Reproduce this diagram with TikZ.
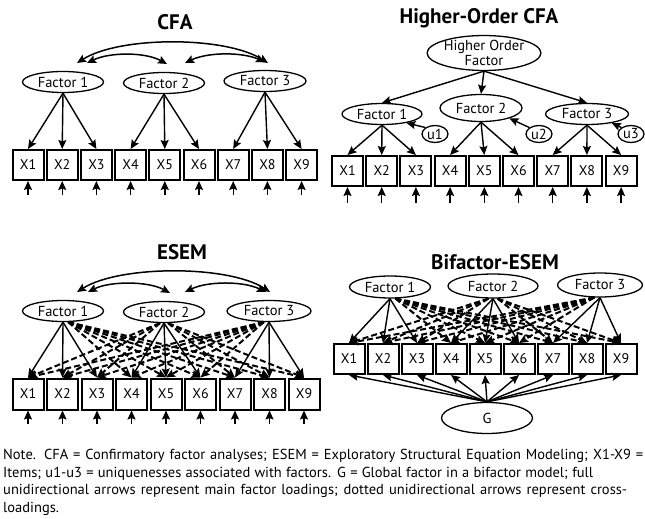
\documentclass[tikz,border=0pt]{standalone}
\usepackage{fontspec}
\setmainfont{PT Sans}
\usetikzlibrary{shapes.geometric,arrows.meta}
\begin{document}
\begin{tikzpicture}[x=1pt,y=-1pt,
  lab/.style={font=\fontsize{14.5}{15}\selectfont},
  fac/.style={ellipse,draw,line width=1.3pt,inner sep=0pt,lab},
  box/.style={draw,line width=2pt,minimum width=31pt,minimum height=30pt,inner sep=0pt,font=\fontsize{14}{15}\selectfont},
  ttl/.style={font=\fontsize{21}{24}\selectfont\bfseries},
  tip/.tip={Stealth[length=9pt,width=8pt,inset=1.5pt]},
  arr/.style={line width=1.4pt,-tip},
  cov/.style={line width=1.5pt,tip-tip},
  xl/.style={line width=2pt,dash pattern=on 6pt off 3pt,-tip},
]
\useasboundingbox (0,0) rectangle (645,519);

% ---------------- CFA ----------------
\node[ttl] (t1) at (175,22) {CFA};
\node[fac,minimum width=81pt,minimum height=21pt] (a-f1) at (63,82) {Factor 1};
\node[fac,minimum width=81pt,minimum height=21pt] (a-f2) at (164,83) {Factor 2};
\node[fac,minimum width=82pt,minimum height=21pt] (a-f3) at (265,81) {Factor 3};
\foreach \i in {1,...,9} {
  \node[box] (a\i) at ({28+34.2*(\i-1)},165) {X\i};
  \path (a\i.south) ++(0,14) coordinate (ae\i);
  \draw[arr] (ae\i) -- (a\i.south);
}
\foreach \f/\l in {1/1,1/2,1/3,2/4,2/5,2/6,3/7,3/8,3/9}
  \draw[arr] (a-f\f.south) -- (a\l.north);
\coordinate (ac1a) at (77,63);
\coordinate (ac1b) at (87,63);
\coordinate (ac2a) at (167,64);
\coordinate (ac2b) at (185,63);
\coordinate (ac3a) at (265,62);
\coordinate (ac3b) at (268,63);
\draw[cov] (ac1a) .. controls (120,36) and (225,36) .. (ac3b);
\draw[cov] (ac1b) .. controls (110,52) and (145,52) .. (ac2a);
\draw[cov] (ac2b) .. controls (208,52) and (242,52) .. (ac3a);

% ---------------- Higher-Order CFA ----------------
\node[ttl] (t2) at (479,18) {Higher-Order CFA};
\node[fac,minimum width=98pt,minimum height=30pt,align=center,font=\fontsize{14.5}{13}\selectfont] (hof) at (484,53) {Higher Order\\Factor};
\node[fac,minimum width=80pt,minimum height=21pt] (h-f1) at (382,114) {Factor 1};
\node[fac,minimum width=82pt,minimum height=27pt] (h-f2) at (481,108) {Factor 2};
\node[fac,minimum width=83pt,minimum height=21pt] (h-f3) at (587,114) {Factor 3};
\foreach \k in {1,2,3} \draw[arr] (hof.south) -- (h-f\k.north);
\node[fac,minimum width=26pt,minimum height=17pt] (u1) at (435,134) {u1};
\node[fac,minimum width=26pt,minimum height=17pt] (u2) at (539,134) {u2};
\node[fac,minimum width=26pt,minimum height=17pt] (u3) at (631,134) {u3};
\foreach \k in {1,2,3} \draw[arr] (u\k.north west) -- (h-f\k.-20);
\foreach \i in {1,...,9} {
  \node[box] (h\i) at ({347.5+34.2*(\i-1)},171) {X\i};
  \path (h\i.south) ++(0,16) coordinate (he\i);
  \draw[arr] (he\i) -- (h\i.south);
}
\foreach \f/\l in {1/1,1/2,1/3,2/4,2/5,2/6,3/7,3/8,3/9}
  \draw[arr] (h-f\f.south) -- (h\l.north);

% ---------------- ESEM ----------------
\node[ttl] (t3) at (182,252) {ESEM};
\node[fac,minimum width=81pt,minimum height=21pt] (e-f1) at (63,311) {Factor 1};
\node[fac,minimum width=81pt,minimum height=21pt] (e-f2) at (164,312) {Factor 2};
\node[fac,minimum width=84pt,minimum height=21pt] (e-f3) at (269,311) {Factor 3};
\foreach \i in {1,...,9} {
  \node[box,minimum height=31pt] (e\i) at ({28+34.5*(\i-1)},394) {X\i};
  \path (e\i.south) ++(0,13) coordinate (ee\i);
  \draw[arr] (ee\i) -- (e\i.south);
}
\foreach \l in {4,...,9} \draw[xl] (e-f1.-65) -- (e\l.north);
\foreach \l in {1,2,3} \draw[xl] (e-f2.-110) -- (e\l.north);
\foreach \l in {7,8,9} \draw[xl] (e-f2.-70) -- (e\l.north);
\foreach \l in {1,...,6} \draw[xl] (e-f3.-115) -- (e\l.north);
\foreach \f/\l in {1/1,1/2,1/3,2/4,2/5,2/6,3/7,3/8,3/9}
  \draw[arr] (e-f\f.south) -- (e\l.north);
\coordinate (ec1a) at (77,292);
\coordinate (ec1b) at (88,292);
\coordinate (ec2a) at (170,293);
\coordinate (ec2b) at (185,292);
\coordinate (ec3a) at (266,292);
\coordinate (ec3b) at (270,292);
\draw[cov] (ec1a) .. controls (120,265) and (228,265) .. (ec3b);
\draw[cov] (ec1b) .. controls (110,281) and (148,281) .. (ec2a);
\draw[cov] (ec2b) .. controls (208,281) and (243,281) .. (ec3a);

% ---------------- Bifactor-ESEM ----------------
\node[ttl] (t4) at (495,262) {Bifactor-ESEM};
\node[fac,minimum width=81pt,minimum height=22pt] (b-f1) at (390,287) {Factor 1};
\node[fac,minimum width=90pt,minimum height=24pt] (b-f2) at (493,286) {Factor 2};
\node[fac,minimum width=85pt,minimum height=24pt] (b-f3) at (600,285) {Factor 3};
\node[fac,minimum width=91pt,minimum height=31pt] (g) at (487,418) {G};
\foreach \i in {1,...,9} {
  \node[box] (b\i) at ({349+34*(\i-1)},359) {X\i};
  \draw[arr] (g.north) -- (b\i.south);
}
\foreach \l in {4,...,9} \draw[xl] (b-f1.-65) -- (b\l.north);
\foreach \l in {1,2,3} \draw[xl] (b-f2.-110) -- (b\l.north);
\foreach \l in {7,8,9} \draw[xl] (b-f2.-70) -- (b\l.north);
\foreach \l in {1,...,6} \draw[xl] (b-f3.-115) -- (b\l.north);
\foreach \f/\l in {1/1,1/2,1/3,2/4,2/5,2/6,3/7,3/8,3/9}
  \draw[arr] (b-f\f.south) -- (b\l.north);

% ---------------- Note ----------------
\node[anchor=north west,inner sep=0pt,font=\fontsize{14.5}{17.5}\selectfont] (note) at (3,449)
 {\vbox{\baselineskip=17.5pt
  \hbox to 640pt{Note. CFA = Confirmatory factor analyses; ESEM = Exploratory Structural Equation Modeling; X1-X9 =}
  \hbox to 590pt{Items; u1-u3 = uniquenesses associated with factors. G = Global factor in a bifactor model; full}
  \hbox to 624pt{unidirectional arrows represent main factor loadings; dotted unidirectional arrows represent cross-}
  \hbox{loadings.}}};
\end{tikzpicture}
\end{document}
